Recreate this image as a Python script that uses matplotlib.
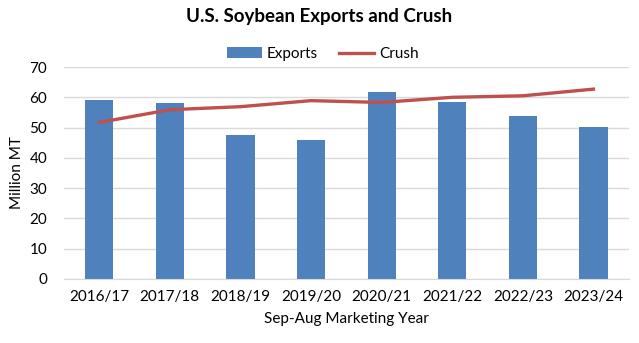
import matplotlib
matplotlib.use("Agg")
import matplotlib.pyplot as plt
import numpy as np

years = ["2016/17", "2017/18", "2018/19", "2019/20", "2020/21", "2021/22", "2022/23", "2023/24"]
exports = [59.0, 58.1, 47.7, 45.8, 61.7, 58.6, 53.9, 50.3]
crush = [51.7, 55.9, 56.9, 58.9, 58.3, 60.0, 60.5, 62.7]

plt.rcParams['font.family'] = ['Lato', 'DejaVu Sans']

fig = plt.figure(figsize=(6.39, 3.43), dpi=100)
ax = fig.add_axes([0.1, 0.1866, 0.884, 0.618])

x = np.arange(len(years))
bars = ax.bar(x, exports, width=0.4, color='#4f81bd', label='Exports', zorder=2)
line, = ax.plot(x, crush, color='#c0504d', linewidth=2.4, label='Crush', zorder=3)

ax.set_xlim(-0.5, len(years) - 0.5)
ax.set_ylim(0, 70)
ax.set_yticks(range(0, 71, 10))
ax.set_xticks(x)
ax.set_xticklabels(years)
ax.grid(axis='y', color='#d9d9d9', linewidth=1, zorder=0)
ax.set_axisbelow(True)
for s in ['top', 'right', 'left']:
    ax.spines[s].set_visible(False)
ax.spines['bottom'].set_color('#d9d9d9')
ax.tick_params(axis='both', length=0, labelsize=11, colors='black')
ax.tick_params(axis='x', pad=8)
ax.tick_params(axis='y', pad=12)

ax.set_ylabel('Million MT', fontsize=11)
ax.set_xlabel('Sep-Aug Marketing Year', fontsize=11, labelpad=6)

fig.text(0.5, 0.952, 'U.S. Soybean Exports and Crush', ha='center', va='center',
         fontsize=13.5, fontweight='bold')
fig.legend([bars, line], ['Exports', 'Crush'], loc='center', bbox_to_anchor=(0.505, 0.843),
           ncol=2, frameon=False, fontsize=11, handlelength=2.3, columnspacing=1.4,
           handletextpad=0.3)

fig.savefig('out.png', dpi=100)
